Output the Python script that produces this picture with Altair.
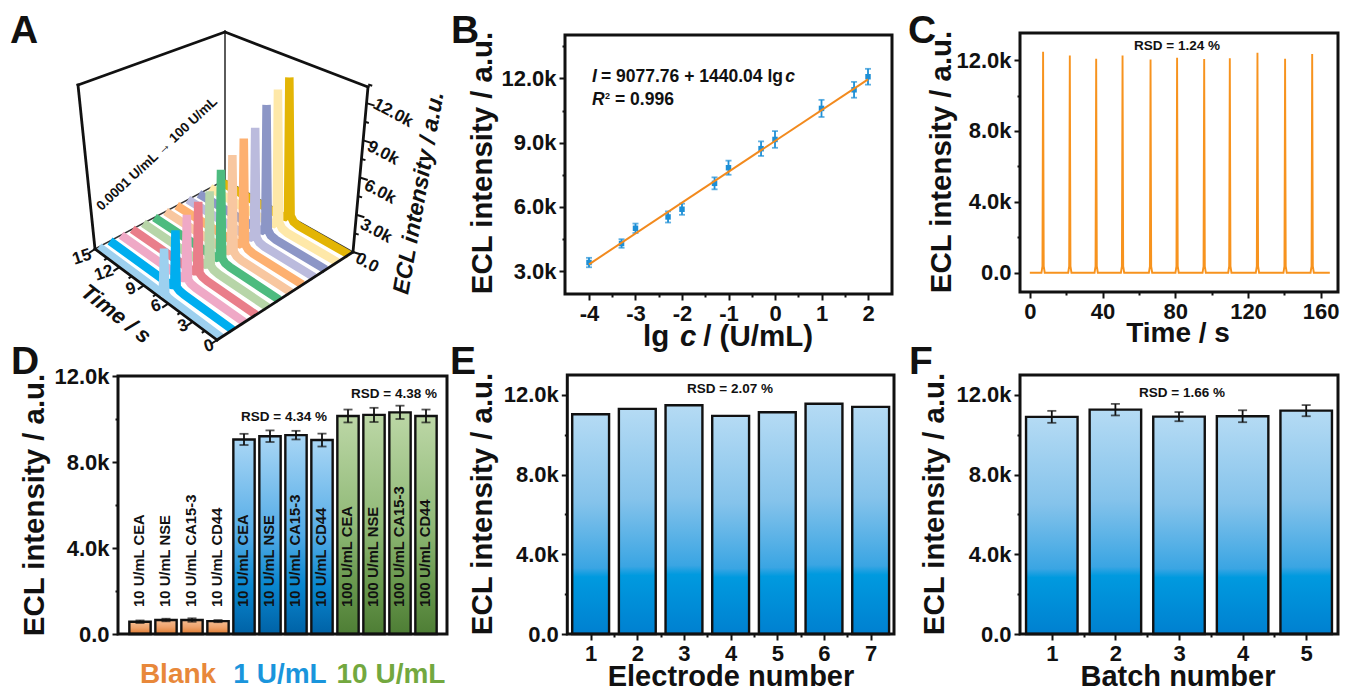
import altair as alt
import pandas as pd

W, H = 1332, 682
FONT = "Liberation Sans"
INK = "#111111"


def P(v):
    return v - 8


# ---------- data ----------
A_COLORS = ["#9DD0EF", "#00AEEF", "#EFA9C6", "#E97E8A", "#B7D5A8", "#4DBB7F",
            "#F8C7A0", "#FDB070", "#BBBBDD", "#8C96C6", "#FEE8A8", "#E3B505"]
A_PEAKS = [3400, 4290, 5000, 5530, 5890, 7100, 7830, 8720, 9150, 10600, 11470, 12080]
A_PROFILE_T = [0, 5.9, 6.5, 6.85, 7.0, 7.15, 7.5, 8.1, 15]
A_PROFILE_H = [0, 0, 0.01, 0.04, 1, 0.04, 0.01, 0, 0]
A_H_TICKS = [0, 1500, 3000, 4500, 6000, 7500, 9000, 10500, 12000, 13500]
A_T_TICKS = [0, 1.5, 3, 4.5, 6, 7.5, 9, 10.5, 12, 13.5, 15]

B_X = [-4, -3.3, -3, -2.3, -2, -1.3, -1, -0.3, 0, 1, 1.7, 2]
B_Y = [3400, 4290, 5000, 5530, 5890, 7100, 7830, 8720, 9150, 10600, 11470, 12080]
B_ERR = [220, 200, 220, 260, 260, 280, 330, 340, 390, 400, 370, 370]
B_FIT_X = [-4, 2]
B_FIT_Y = [3317, 11958]

C_PEAK_T = [7.3, 22.0, 36.5, 51.0, 66.4, 81.0, 95.9, 110.0, 125.2, 140.4, 155.3]
C_PEAK_Y = [12470, 12260, 12080, 12260, 12040, 12130, 12060, 12110, 12420, 12080, 12340]

D_CATS = ["10 U/mL CEA", "10 U/mL NSE", "10 U/mL CA15-3", "10 U/mL CD44"]
D_LABELS = D_CATS + D_CATS + ["100 U/mL CEA", "100 U/mL NSE", "100 U/mL CA15-3", "100 U/mL CD44"]
D_GROUP1 = [570, 650, 650, 600]
D_GROUP2 = [9050, 9200, 9250, 9020]
D_GROUP3 = [10140, 10190, 10310, 10140]
D_ERR1 = [60, 60, 80, 50]
D_ERR2 = [260, 270, 200, 300]
D_ERR3 = [300, 330, 310, 300]

E_X = ["1", "2", "3", "4", "5", "6", "7"]
E_Y = [11030, 11300, 11480, 10950, 11130, 11560, 11400]

F_X = ["1", "2", "3", "4", "5"]
F_Y = [10900, 11260, 10910, 10930, 11210]
F_ERR = [300, 290, 230, 300, 280]

# ---------- A's projection ----------
BASE = {(0, 0): (217, 340), (1, 0): (95, 249), (0, 1): (353, 252), (1, 1): (225, 180)}
TOP = {(0, 0): (219, 140), (1, 0): (78, 85), (0, 1): (368, 87), (1, 1): (225, 32)}
A_TMAX, A_HMAX = 15, 13300


def bilinear(c, t, s, i):
    return (f"((1-{s})*((1-{t})*{c[(0,0)][i]}+{t}*{c[(1,0)][i]})"
            f"+{s}*((1-{t})*{c[(0,1)][i]}+{t}*{c[(1,1)][i]}))")


def proj(t, s, h, i, lean=1.0):
    b, top = bilinear(BASE, t, s, i), bilinear(TOP, t, s, i)
    return f"({b}+{lean}*{h}*({top}-{b}))"


PAGE_X = alt.Scale(domain=[0, 1348], range=[P(0), P(1348)], nice=False, zero=False)
PAGE_Y = alt.Scale(domain=[0, 690], range=[P(0), P(690)], nice=False, zero=False)
layers = []


def page_rule(df, width, color=INK):
    return alt.Chart(df).transform_calculate(
        px1=proj("datum.t1", "datum.s1", "datum.h1", 0),
        py1=proj("datum.t1", "datum.s1", "datum.h1", 1),
        px2=proj("datum.t2", "datum.s2", "datum.h2", 0),
        py2=proj("datum.t2", "datum.s2", "datum.h2", 1),
    ).mark_rule(color=color, strokeWidth=width, strokeCap="square").encode(
        x=alt.X("px1:Q", scale=PAGE_X, axis=None),
        y=alt.Y("py1:Q", scale=PAGE_Y, axis=None),
        x2="px2:Q", y2="py2:Q")


def edge(a, b):
    return dict(t1=a[0], s1=a[1], h1=a[2], t2=b[0], s2=b[1], h2=b[2])


layers.append(page_rule(pd.DataFrame([
    edge((1, 0, 0), (1, 1, 0)), edge((0, 1, 0), (1, 1, 0)), edge((1, 1, 0), (1, 1, 1))]), 1.6, "#333333"))
layers.append(page_rule(pd.DataFrame([
    edge((1, 0, 0), (1, 0, 1)), edge((0, 1, 0), (0, 1, 1)),
    edge((1, 0, 1), (1, 1, 1)), edge((1, 1, 1), (0, 1, 1))]), 2.8))

# ribbons, from the back to the front
for i in range(len(A_PEAKS) - 1, -1, -1):
    s = 0.03 + i * 0.0855
    df = pd.DataFrame({
        "idx": range(len(A_PROFILE_T)),
        "t": A_PROFILE_T,
        "h": [p * A_PEAKS[i] for p in A_PROFILE_H],
        "s": s,
    })
    layers.append(alt.Chart(df).transform_calculate(
        tn=f"datum.t/{A_TMAX}", hn=f"datum.h/{A_HMAX}"
    ).transform_calculate(
        px=proj("datum.tn", "datum.s", "datum.hn", 0, 0.0),
        py=proj("datum.tn", "datum.s", "datum.hn", 1),
    ).mark_line(color=A_COLORS[i], strokeWidth=8.5, strokeCap="butt", strokeJoin="miter",
                strokeMiterLimit=2).encode(
        x=alt.X("px:Q", scale=PAGE_X, axis=None),
        y=alt.Y("py:Q", scale=PAGE_Y, axis=None),
        order="idx:Q"))

layers.append(page_rule(pd.DataFrame([edge((0, 0, 0), (1, 0, 0)), edge((0, 0, 0), (0, 1, 0))]), 2.8))

# A's ticks
df_h = pd.DataFrame({"h": A_H_TICKS})
layers.append(alt.Chart(df_h).transform_calculate(
    hn=f"datum.h/{A_HMAX}"
).transform_calculate(
    px=proj("0", "1", "datum.hn", 0), py=proj("0", "1", "datum.hn", 1)
).transform_calculate(
    px2="datum.px+(datum.h%3000==0?8:4)", py2="datum.py+(datum.h%3000==0?2.5:1.2)"
).mark_rule(color=INK, strokeWidth=2).encode(
    x=alt.X("px:Q", scale=PAGE_X, axis=None), y=alt.Y("py:Q", scale=PAGE_Y, axis=None),
    x2="px2:Q", y2="py2:Q"))
df_t = pd.DataFrame({"t": A_T_TICKS})
layers.append(alt.Chart(df_t).transform_calculate(
    tn=f"datum.t/{A_TMAX}"
).transform_calculate(
    px=proj("datum.tn", "0", "0", 0), py=proj("datum.tn", "0", "0", 1)
).transform_calculate(
    px2="datum.px-(datum.t%3==0?6:3)", py2="datum.py+(datum.t%3==0?4:2)"
).mark_rule(color=INK, strokeWidth=2).encode(
    x=alt.X("px:Q", scale=PAGE_X, axis=None), y=alt.Y("py:Q", scale=PAGE_Y, axis=None),
    x2="px2:Q", y2="py2:Q"))


# ---------- helpers ----------
def txt(text, x, y, size=14, angle=0, color=INK, weight="bold", style="normal", align="center"):
    return alt.Chart(alt.Data(values=[{"label": text}])).mark_text(
        font=FONT, fontSize=size, fontWeight=weight, fontStyle=style, color=color,
        angle=angle % 360, align=align, baseline="middle"
    ).encode(x=alt.value(P(x)), y=alt.value(P(y)), text="label:N")


def qscale(dom, rng):
    return alt.Scale(domain=dom, range=[P(rng[0]), P(rng[1])], nice=False, zero=False)


def y_axis(x0, values, step):
    return alt.Axis(
        orient="left", offset=-P(x0), values=values, title=None, grid=False, domain=False,
        labelExpr=f"datum.value % {step} ? '' : (datum.value == 0 ? '0.0' : format(datum.value/1000, '.1f') + 'k')",
        tickSize={"condition": {"test": f"datum.value % {step} != 0", "value": 3}, "value": 6},
        tickColor=INK, tickWidth=2, labelColor=INK, labelFont=FONT, labelFontSize=22,
        labelFontWeight="bold", labelPadding=3, labelOverlap=False, labelBound=False,
        labelFlush=False, zindex=1)


def x_axis(y1, values, step):
    return alt.Axis(
        orient="bottom", offset=P(y1) - H, values=values, title=None, grid=False, domain=False,
        labelExpr=f"datum.value % {step} ? '' : '' + datum.value",
        tickSize={"condition": {"test": f"datum.value % {step} != 0", "value": 3}, "value": 6},
        tickColor=INK, tickWidth=2, labelColor=INK, labelFont=FONT, labelFontSize=22,
        labelFontWeight="bold", labelPadding=3, labelOverlap=False, labelBound=False,
        labelFlush=False, labelAngle=0, zindex=1)


def frame(px, py, xdom, ydom, xax=None, yax=None):
    d = [{"a": xdom[0], "b": xdom[1], "c": ydom[0], "d": ydom[1]}]
    return alt.Chart(alt.Data(values=d)).mark_rect(
        fill="white", fillOpacity=0, stroke=INK, strokeWidth=3
    ).encode(
        x=alt.X("a:Q", scale=qscale(xdom, px), axis=xax),
        x2="b:Q",
        y=alt.Y("c:Q", scale=qscale(ydom, (py[1], py[0])), axis=yax),
        y2="d:Q")


def grad(top, mids, bottom):
    stops = [alt.GradientStop(color=bottom, offset=0)]
    for off, c in sorted(mids):
        stops.append(alt.GradientStop(color=c, offset=off))
    stops.append(alt.GradientStop(color=top, offset=1))
    return alt.LinearGradient(gradient="linear", stops=stops, x1=0, x2=0, y1=1, y2=0)


def bars(df, xs, ys, fill, sw=2.4):
    return alt.Chart(df).mark_bar(fill=fill, stroke=INK, strokeWidth=sw).encode(
        x=alt.X("cat:N", scale=xs, sort=None, axis=None),
        y=alt.Y("val:Q", scale=ys, axis=None))


def errs(df, xs, ys, size=9, width=1.8, color=INK):
    rule = alt.Chart(df).mark_rule(color=color, strokeWidth=width).encode(
        x=alt.X("cat:N", scale=xs, sort=None, axis=None),
        y=alt.Y("lo:Q", scale=ys, axis=None), y2="hi:Q")
    out = [rule]
    for f in ("lo", "hi"):
        out.append(alt.Chart(df).mark_tick(color=color, size=size, thickness=width, orient="horizontal").encode(
            x=alt.X("cat:N", scale=xs, sort=None, axis=None),
            y=alt.Y(f"{f}:Q", scale=ys, axis=None)))
    return out


def with_err(cats, vals, err):
    return pd.DataFrame({"cat": cats, "val": vals,
                         "lo": [v - e for v, e in zip(vals, err)],
                         "hi": [v + e for v, e in zip(vals, err)]})


# ---------- B ----------
bx, by = (565, 892), (35, 294)
bxd, byd = [-4.516, 2.516], [1930, 14030]
bxs, bys = qscale(bxd, bx), qscale(byd, (by[1], by[0]))
df_b = pd.DataFrame({"x": B_X, "y": B_Y,
                     "lo": [v - e for v, e in zip(B_Y, B_ERR)],
                     "hi": [v + e for v, e in zip(B_Y, B_ERR)]})
BLUE = "#1D8FD6"
layers.append(alt.Chart(df_b).mark_rule(color=BLUE, strokeWidth=1.8).encode(
    x=alt.X("x:Q", scale=bxs, axis=None), y=alt.Y("lo:Q", scale=bys, axis=None), y2="hi:Q"))
for f in ("lo", "hi"):
    layers.append(alt.Chart(df_b).mark_tick(color=BLUE, size=6, thickness=1.8, orient="horizontal").encode(
        x=alt.X("x:Q", scale=bxs, axis=None), y=alt.Y(f"{f}:Q", scale=bys, axis=None)))
layers.append(alt.Chart(df_b).mark_point(filled=True, color=BLUE, size=30, opacity=1, shape="square").encode(
    x=alt.X("x:Q", scale=bxs, axis=None), y=alt.Y("y:Q", scale=bys, axis=None)))
layers.append(alt.Chart(pd.DataFrame({"x": B_FIT_X, "y": B_FIT_Y})).mark_line(color="#F28A1E", strokeWidth=2).encode(
    x=alt.X("x:Q", scale=bxs, axis=None), y=alt.Y("y:Q", scale=bys, axis=None)))
layers.append(frame(bx, by, bxd, byd,
                    x_axis(by[1], [v / 2 for v in range(-8, 5)], 1),
                    y_axis(bx[0], [3000, 4500, 6000, 7500, 9000, 10500, 12000, 13500], 3000)))

# ---------- C ----------
cx, cy = (1020, 1338), (33, 292)
cxd, cyd = [-5.4, 169.5], [-1090, 13530]
cxs, cys = qscale(cxd, cx), qscale(cyd, (cy[1], cy[0]))
c_t, c_y = [0.0], [0.0]
for t, v in zip(C_PEAK_T, C_PEAK_Y):
    c_t += [t - 0.9, t - 0.35, t, t + 0.35, t + 0.9]
    c_y += [0, 0.03 * v, v, 0.03 * v, 0]
c_t.append(165.0)
c_y.append(0.0)
df_c = pd.DataFrame({"t": c_t, "y": c_y})
layers.append(alt.Chart(df_c).mark_line(color="#F7931E", strokeWidth=1.9).encode(
    x=alt.X("t:Q", scale=cxs, axis=None), y=alt.Y("y:Q", scale=cys, axis=None)))
layers.append(frame(cx, cy, cxd, cyd,
                    x_axis(cy[1], list(range(0, 161, 20)), 40),
                    y_axis(cx[0], [0, 2000, 4000, 6000, 8000, 10000, 12000], 4000)))

# ---------- D ----------
dx, dy = (118, 447), (376, 634)
dyd = [0, 12000]
dys = qscale(dyd, (dy[1], dy[0]))
d_cats = [f"{i}" for i in range(12)]
dxs = alt.Scale(domain=d_cats, range=[P(127), P(439)], paddingInner=0.18, paddingOuter=0.09)
GR_O = grad("#F7BE93", [(0.5, "#EFA26B")], "#DE7A2E")
GR_B = grad("#A9D6F5", [(0.5, "#52ABE6"), (0.25, "#0A87CF")], "#0062A6")
GR_G = grad("#BCD7A6", [(0.5, "#90B977"), (0.25, "#6B9A50")], "#4E7E35")
for lo, vals, err, fill in ((0, D_GROUP1, D_ERR1, GR_O), (4, D_GROUP2, D_ERR2, GR_B), (8, D_GROUP3, D_ERR3, GR_G)):
    sub = with_err(d_cats[lo:lo + 4], vals, err)
    layers.append(bars(sub, dxs, dys, fill))
    layers += errs(sub, dxs, dys, size=9)
df_lab = pd.DataFrame({"cat": d_cats, "label": D_LABELS, "y0": [1260] * 12})
layers.append(alt.Chart(df_lab).mark_text(
    font=FONT, fontSize=14.8, fontWeight="bold", color=INK, angle=270, align="left", baseline="middle"
).encode(
    x=alt.X("cat:N", scale=dxs, sort=None, axis=None),
    y=alt.Y("y0:Q", scale=dys, axis=None), text="label:N"))
layers.append(frame(dx, dy, [0, 1], dyd, None,
                    y_axis(dx[0], [0, 2000, 4000, 6000, 8000, 10000, 12000], 4000)))

# ---------- E ----------
GR_BAR = grad("#B5DBF4", [(0.6, "#85C3EB"), (0.3, "#3AA5E3"), (0.26, "#009ADF")], "#0080D0")
ex, ey = (567.3, 894), (375, 634)
eyd = [0, 13000]
eys = qscale(eyd, (ey[1], ey[0]))
exs = alt.Scale(domain=E_X, range=[P(ex[0]), P(ex[1])], paddingInner=0.21, paddingOuter=0.105)
layers.append(bars(pd.DataFrame({"cat": E_X, "val": E_Y}), exs, eys, GR_BAR))
layers.append(frame(ex, ey, [0.5, 7.5], eyd,
                    x_axis(ey[1], [v / 2 for v in range(2, 15)], 1),
                    y_axis(ex[0], [0, 2000, 4000, 6000, 8000, 10000, 12000], 4000)))

# ---------- F ----------
fx, fy = (1020, 1338), (375, 634)
fyd = [0, 13000]
fys = qscale(fyd, (fy[1], fy[0]))
fxs = alt.Scale(domain=F_X, range=[P(fx[0]), P(fx[1])], paddingInner=0.19, paddingOuter=0.095)
df_f = with_err(F_X, F_Y, F_ERR)
layers.append(bars(df_f, fxs, fys, GR_BAR))
layers += errs(df_f, fxs, fys, size=9)
layers.append(frame(fx, fy, [0.5, 5.5], fyd,
                    x_axis(fy[1], [v / 2 for v in range(2, 11)], 1),
                    y_axis(fx[0], [0, 2000, 4000, 6000, 8000, 10000, 12000], 4000)))

# ---------- text ----------
for letter, x, y in (("A", 24, 31), ("B", 465, 31), ("C", 922, 31), ("D", 25, 362), ("E", 463, 362), ("F", 921, 362)):
    layers.append(txt(letter, x, y, size=39))

Y_TITLE = "ECL intensity / a.u."
for x, y in ((483, 163), (942, 162), (35, 505), (483, 504), (935, 504)):
    layers.append(txt(Y_TITLE, x, y, size=29.4, angle=-90))

layers.append(txt("lg", 643, 337, size=29.5, align="left"))
layers.append(txt("c", 680, 337, size=29.5, style="italic", align="left"))
layers.append(txt("/ (U/mL)", 813, 337, size=29.5, align="right"))
layers.append(txt("Time / s", 1178, 334, size=28))
layers.append(txt("Electrode number", 731, 677, size=29))
layers.append(txt("Batch number", 1178, 677, size=29))

layers.append(txt("I", 592, 77, size=17.5, style="italic", align="left"))
layers.append(txt("= 9077.76 + 1440.04 lg", 601, 77, size=17.5, align="left"))
layers.append(txt("c", 795, 77, size=17.5, style="italic", align="right"))
layers.append(txt("R", 592, 100, size=17.5, style="italic", align="left"))
layers.append(txt("2", 605, 96, size=9, align="left"))
layers.append(txt("= 0.996", 615, 100, size=17.5, align="left"))

for s, x, y in (("RSD = 1.24 %", 1177, 46), ("RSD = 4.34 %", 284, 417), ("RSD = 4.38 %", 394, 394),
                ("RSD = 2.07 %", 730, 389), ("RSD = 1.66 %", 1182, 393)):
    layers.append(txt(s, x, y, size=13.5))

layers.append(txt("Blank", 178, 675, size=28, color="#E8883A"))
layers.append(txt("1 U/mL", 280, 675, size=28, color="#1A95DC"))
layers.append(txt("10 U/mL", 391, 675, size=28, color="#73A83F"))

layers.append(txt("0.0001 U/mL → 100 U/mL", 157, 154, size=13.5, angle=-43))
layers.append(txt(Y_TITLE, 419, 193, size=23, angle=-80, style="italic"))
layers.append(txt("Time / s", 116, 314, size=22, angle=38, style="italic"))
for s, x, y in (("0.0", 367, 263), ("3.0k", 376, 231), ("6.0k", 380, 192), ("9.0k", 383, 153), ("12.0k", 393, 113)):
    layers.append(txt(s, x, y, size=17, angle=28))
for s, x, y in (("15", 82, 257), ("12", 104, 273), ("9", 131, 289), ("6", 156, 306), ("3", 183, 326), ("0", 209, 346)):
    layers.append(txt(s, x, y, size=17, angle=-18))

chart = alt.layer(*layers).resolve_scale(x="independent", y="independent").properties(
    width=W, height=H, padding=0,
    autosize=alt.AutoSizeParams(type="none", contains="padding"),
    background="white",
).configure_view(strokeWidth=0)

chart.save("out.html", embed_options={"renderer": "svg", "actions": False})
